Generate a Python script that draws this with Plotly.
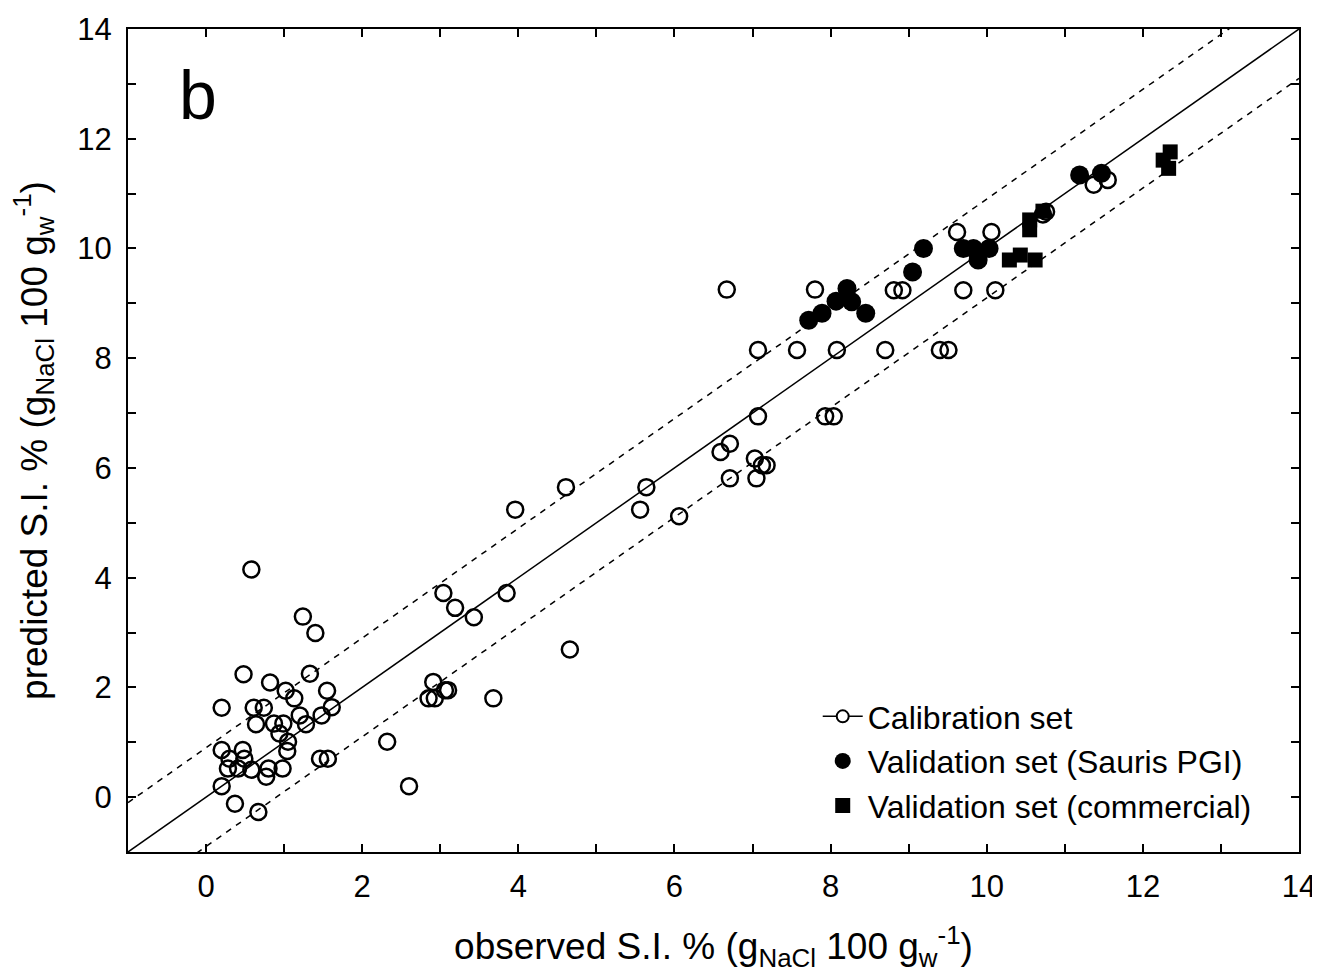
import plotly.graph_objects as go

# Calibration set (observed, predicted)
cal_x = [0.58, 1.24, 1.40, 0.48, 0.82, 1.33, 1.02, 1.13, 1.55, 0.20, 0.61, 0.74, 1.61,
         0.64, 0.87, 0.99, 0.94, 1.20, 1.28, 1.48, 1.05, 1.04, 0.20, 0.30, 0.47, 0.49,
         0.28, 0.41, 0.58, 0.80, 0.77, 0.98, 1.46, 1.56, 0.20, 0.37, 0.67, 2.32, 2.60,
         2.91, 2.85, 2.93, 3.06, 3.10, 3.68, 3.04, 3.19, 3.43, 3.85, 4.66, 3.96, 4.61,
         5.64, 5.56, 6.06,
         6.67, 7.80, 8.81, 8.92, 9.70, 10.11, 7.07, 7.57, 8.08, 8.70, 9.40, 9.51,
         7.07, 7.93, 8.04, 6.71, 6.59, 7.03, 7.12, 7.18, 6.71, 7.05,
         9.62, 10.06, 10.76, 10.72, 11.37, 11.55]
cal_y = [4.15, 3.29, 2.99, 2.24, 2.09, 2.25, 1.94, 1.80, 1.94, 1.63, 1.63, 1.63, 1.64,
         1.33, 1.34, 1.34, 1.16, 1.49, 1.33, 1.49, 1.01, 0.84, 0.86, 0.70, 0.86, 0.70,
         0.52, 0.52, 0.50, 0.52, 0.37, 0.52, 0.70, 0.70, 0.20, -0.12, -0.27, 1.01, 0.20,
         2.10, 1.80, 1.80, 1.95, 1.95, 1.80, 3.72, 3.45, 3.28, 3.72, 2.69, 5.24, 5.65,
         5.65, 5.24, 5.12,
         9.25, 9.25, 9.24, 9.24, 9.24, 9.24, 8.15, 8.15, 8.15, 8.15, 8.15, 8.15,
         6.94, 6.94, 6.94, 6.44, 6.29, 6.17, 6.05, 6.05, 5.81, 5.81,
         10.30, 10.30, 10.67, 10.62, 11.16, 11.25]

# Validation set (Sauris PGI)
sau_x = [7.72, 7.89, 8.07, 8.21, 8.27, 8.45, 9.05, 9.19, 9.70, 9.83, 9.89, 10.03, 11.19, 11.47]
sau_y = [8.69, 8.82, 9.04, 9.27, 9.03, 8.82, 9.57, 10.00, 10.00, 10.00, 9.79, 10.00, 11.34, 11.37]

# Validation set (commercial)
com_x = [10.29, 10.43, 10.62, 10.55, 10.55, 10.72, 12.26, 12.35, 12.33]
com_y = [9.79, 9.88, 9.79, 10.34, 10.52, 10.68, 11.61, 11.76, 11.46]

# Regression line and prediction band
slope = 1.0
intercept = 0.0
band = 0.9
line_x = [-1, 14]

FONT = "Liberation Sans, Arial, sans-serif"

fig = go.Figure()

fit_y = [slope * v + intercept for v in line_x]
fig.add_trace(go.Scatter(x=line_x, y=fit_y, mode="lines",
                         line=dict(color="black", width=1.5), showlegend=False,
                         hoverinfo="skip"))
fig.add_trace(go.Scatter(x=line_x, y=[v + band for v in fit_y], mode="lines",
                         line=dict(color="black", width=1.5, dash="6px,6px"),
                         showlegend=False, hoverinfo="skip"))
fig.add_trace(go.Scatter(x=line_x, y=[v - band for v in fit_y], mode="lines",
                         line=dict(color="black", width=1.5, dash="6px,6px"),
                         showlegend=False, hoverinfo="skip"))

fig.add_trace(go.Scatter(x=cal_x, y=cal_y, mode="markers", name="Calibration set",
                         showlegend=False,
                         marker=dict(symbol="circle-open", size=16, color="black",
                                     line=dict(width=2.5, color="black"))))
# legend entry for calibration (line + circle)
fig.add_trace(go.Scatter(x=[None], y=[None], mode="lines+markers", name="Calibration set",
                         line=dict(color="black", width=1.5),
                         marker=dict(symbol="circle", size=12, color="white",
                                     line=dict(width=2, color="black"))))
fig.add_trace(go.Scatter(x=sau_x, y=sau_y, mode="markers", name="Validation set (Sauris PGI)",
                         marker=dict(symbol="circle", size=19, color="black",
                                     line=dict(width=0))))
fig.add_trace(go.Scatter(x=com_x, y=com_y, mode="markers", name="Validation set (commercial)",
                         marker=dict(symbol="square", size=15, color="black",
                                     line=dict(width=0))))

axis_common = dict(
    showgrid=False, zeroline=False, showline=True, linecolor="black", linewidth=2,
    mirror="ticks", ticks="inside", ticklen=8, tickwidth=1.5, tickcolor="black",
    tick0=0, dtick=2,
    minor=dict(dtick=1, ticks="inside", ticklen=8, tickwidth=1.5, tickcolor="black"),
    tickfont=dict(family=FONT, size=31, color="black"),
)

fig.update_xaxes(range=[-1, 14], **axis_common, ticklabelstandoff=6,
                 title=dict(text="observed S.I. % (g<sub>NaCl</sub> 100 g<sub>w</sub><sup>-1</sup>)",
                            font=dict(family=FONT, size=37, color="black"), standoff=30))
fig.update_yaxes(range=[-1, 14], **axis_common, ticklabelstandoff=8,
                 title=dict(text="predicted S.I. % (g<sub>NaCl</sub> 100 g<sub>w</sub><sup>-1</sup>)",
                            font=dict(family=FONT, size=37, color="black"), standoff=22))

fig.add_annotation(text="b", xref="paper", yref="paper", x=0.06, y=0.92,
                   showarrow=False, font=dict(family=FONT, size=68, color="black"),
                   xanchor="center", yanchor="middle")

# page body adds an 8px margin; compensate so plot area lands where the reference has it
fig.update_layout(
    width=1312, height=969,
    margin=dict(l=120, r=21, t=21, b=125, autoexpand=False),
    paper_bgcolor="white", plot_bgcolor="white",
    font=dict(family=FONT, color="black"),
    legend=dict(x=0.589, y=0.198, xanchor="left", yanchor="top",
                bgcolor="rgba(0,0,0,0)", font=dict(family=FONT, size=32, color="black"),
                itemwidth=40, tracegroupgap=0),
)

fig.write_html("out.html")
